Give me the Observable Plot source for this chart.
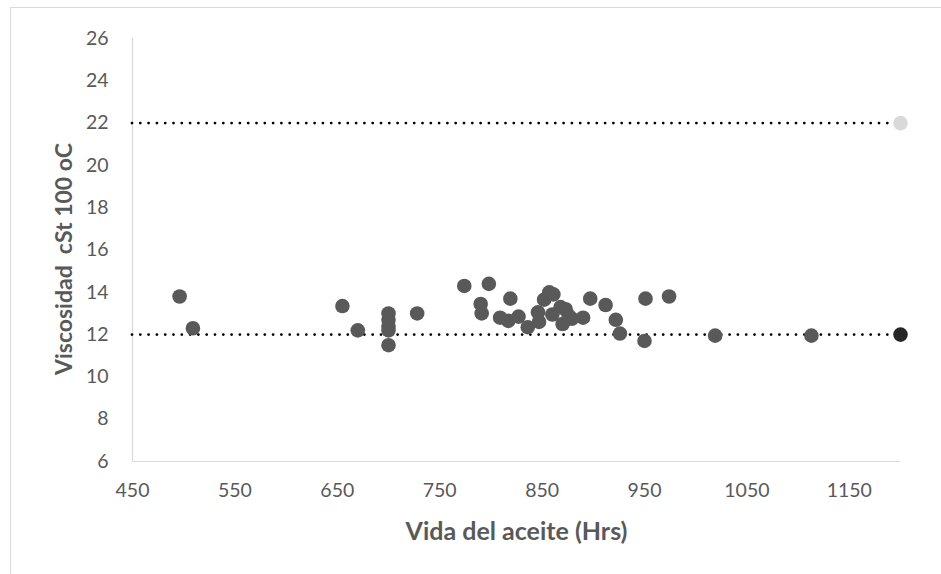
<!DOCTYPE html>
<html>
<head>
<meta charset="utf-8">
<script src="https://cdn.jsdelivr.net/npm/d3@7"></script>
<script src="https://cdn.jsdelivr.net/npm/@observablehq/plot@0.6"></script>
<style>
  html, body { margin: 0; padding: 0; background: #fff; }
  #wrap { position: relative; width: 941px; height: 574px; overflow: hidden; }
  #frame { position: absolute; left: 10px; top: 7px; width: 960px; height: 600px; border: 1px solid #d9d9d9; box-sizing: border-box; }
  #chart { position: absolute; left: 0; top: 0; }
</style>
</head>
<body>
<div id="wrap"><div id="frame"></div><div id="chart"></div></div>
<script>
// Data
const hours = [496, 509, 655, 670, 700, 700, 700, 700, 700, 728,
  774, 798, 790, 791, 819, 809, 817, 827, 836, 846,
  847, 852, 857, 861, 860, 868, 873, 870, 879, 890,
  876, 897, 912, 922, 926, 950, 951, 974, 1019, 1113];
const viscosity = [13.8, 12.3, 13.35, 12.2, 13.0, 12.7, 12.4, 12.2, 11.5, 13.0,
  14.3, 14.4, 13.45, 13.0, 13.7, 12.8, 12.65, 12.85, 12.35, 13.05,
  12.6, 13.65, 14.0, 13.9, 12.95, 13.3, 13.2, 12.5, 12.75, 12.8,
  12.9, 13.7, 13.4, 12.7, 12.05, 11.7, 13.7, 13.8, 11.95, 11.95];
const limitValues = [22, 12];
const limitColors = ["#d9d9d9", "#262626"];
const xTicks = [450, 550, 650, 750, 850, 950, 1050, 1150];
const yTicks = [6, 8, 10, 12, 14, 16, 18, 20, 22, 24, 26];
const xDomain = [450, 1200];
const yDomain = [6, 26];
const xTitle = "Vida del aceite (Hrs)";
const yTitle = "Viscosidad\u00a0 cSt 100 oC";

const points = hours.map((h, i) => ({h, v: viscosity[i]}));
const limits = limitValues.map((v, i) => ({v, c: limitColors[i]}));

const chart = Plot.plot({
  width: 941,
  height: 574,
  marginLeft: 132,
  marginRight: 41,
  marginTop: 38,
  marginBottom: 113,
  style: {fontFamily: "Lato, sans-serif", background: "transparent"},
  x: {domain: xDomain},
  y: {domain: yDomain},
  marks: [
    Plot.ruleX([xDomain[0]], {y1: yDomain[0], y2: yDomain[1], stroke: "#d9d9d9", strokeWidth: 1.2}),
    Plot.ruleY([yDomain[0]], {x1: xDomain[0], x2: xDomain[1], stroke: "#d9d9d9", strokeWidth: 1.2}),
    Plot.ruleY(limitValues, {x1: xDomain[0], x2: xDomain[1], stroke: "#000", strokeWidth: 2.8,
      strokeDasharray: "0 8.3", strokeLinecap: "round"}),
    Plot.dot(points, {x: "h", y: "v", r: 7.3, fill: "#595959", stroke: "none"}),
    Plot.dot(limits, {x: xDomain[1], y: "v", r: 7.3, fill: "c", stroke: "none"}),
    Plot.axisX(xTicks, {tickSize: 0, tickPadding: 22, fontSize: 19.5, fill: "#595959", label: null, tickFormat: d => String(d)}),
    Plot.axisY(yTicks, {tickSize: 0, tickPadding: 24, fontSize: 19.5, fill: "#595959", label: null}),
    Plot.text([xTitle], {frameAnchor: "bottom", dy: 70, lineAnchor: "middle", textAnchor: "middle", fontSize: 25, fontWeight: "bold", fill: "#595959"}),
    Plot.text([yTitle], {frameAnchor: "left", dx: -68, dy: 9, rotate: -90, lineAnchor: "middle", textAnchor: "middle", fontSize: 23, fontWeight: "bold", fill: "#595959"})
  ]
});
document.getElementById("chart").appendChild(chart);
</script>
</body>
</html>
